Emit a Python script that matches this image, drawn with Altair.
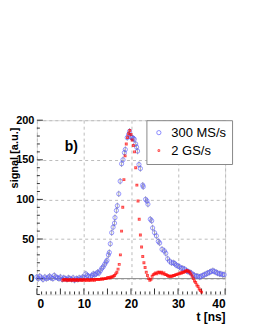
import altair as alt
import pandas as pd

# ---- data ----
blue_t = [0.0, 0.3, 0.6, 1.0, 1.3, 1.7, 2.0, 2.4, 2.7, 3.0, 3.4, 3.7, 4.0, 4.4, 4.7, 5.0, 5.4, 5.7,
          6.0, 6.4, 6.7, 7.0, 7.4, 7.7, 8.0, 8.4, 8.7, 9.0, 9.4, 9.7, 10.0, 10.4, 10.7, 11.0, 11.4,
          11.7, 12.0, 12.3, 12.6, 12.9, 13.2, 13.5, 13.8, 14.1, 14.4, 14.7, 14.9, 15.2, 15.4, 15.6,
          15.9, 16.2, 16.5, 16.6, 16.9, 17.1, 17.4, 17.7, 18.0, 18.3, 18.6, 18.8, 19.2, 19.5, 19.7,
          19.9, 20.2, 20.5, 20.7, 21.0, 21.2, 21.4, 21.7, 22.0, 22.5, 22.6, 23.1, 23.4, 23.6, 24.1,
          24.4, 24.6, 25.0, 25.4, 25.8, 26.1, 26.6, 27.1, 27.4, 27.8, 28.2, 28.6, 29.0, 29.3, 29.6,
          30.0, 30.3, 30.7, 31.0, 31.4, 31.8, 32.1, 32.5, 32.8, 33.2, 33.5, 33.9, 34.2, 34.6, 34.9,
          35.3, 35.6, 36.0, 36.3, 36.7, 37.0, 37.4, 37.7, 38.1, 38.4, 38.8, 39.1, 39.5, 39.8]
blue_v = [2, 0, 3, 1, -1, 2, 0, 1, 3, 1, 0, 4, 2, 1, 0, 2, -1, 1,
          0, -1, 1, 0, -1, 1, -2, 0, -1, 1, 0, 2, 1, 6, 4, 3, 2,
          4, 6, 5, 6, 8, 7, 10, 13, 15, 18, 21, 23, 30, 33, 44,
          58, 65, 70, 77, 86, 92, 107, 123, 145, 150, 159, 163, 178, 182, 186,
          179, 178, 177, 176, 170, 166, 161, 144, 139, 118, 116, 100, 98, 94, 75,
          73, 64, 58, 54, 47, 45, 37, 35, 32, 25, 22, 20, 20, 19, 17,
          16, 15, 13, 13, 12, 10, 9, 8, 7, 5, 4, 3, 3, 2, 3,
          4, 5, 6, 7, 8, 9, 10, 9, 8, 7, 6, 6, 5, 5]

red_t = [5.5, 5.75, 6.0, 6.25, 6.5, 6.75, 7.0, 7.25, 7.5, 7.75, 8.0, 8.25, 8.5, 8.75, 9.0, 9.25,
         9.5, 9.75, 10.0, 10.25, 10.5, 10.75, 11.0, 11.25, 11.5, 11.75, 12.0, 12.25, 12.5, 12.75,
         13.0, 13.25, 13.5, 13.75, 14.0, 14.25, 14.5, 14.75, 15.0, 15.25, 15.5, 15.75, 16.0, 16.25,
         16.5, 16.75, 17.0, 17.25, 17.5, 17.75, 18.0, 18.25, 18.5, 18.75, 19.0, 19.25, 19.5, 19.75,
         20.0, 20.25, 20.5, 20.75, 21.0, 21.25, 21.5, 21.75, 22.0, 22.25, 22.5, 22.75, 23.0, 23.25,
         23.5, 23.75, 24.0, 24.25, 24.5, 24.75, 25.0, 25.25, 25.5, 25.75, 26.0, 26.25, 26.5, 26.75,
         27.0, 27.25, 27.5, 27.75, 28.0, 28.25, 28.5, 28.75, 29.0, 29.25, 29.5, 29.75, 30.0, 30.25,
         30.5, 30.75, 31.0, 31.25, 31.5, 31.75, 32.0, 32.25, 32.5, 32.75, 33.0, 33.25, 33.5, 33.75,
         34.0, 34.25, 34.5, 34.75, 35.0]
red_v = [-2, -1, -2, -1, -2, -2, -1, -2, -2, -1, -2, -2, -1, -2, -2, -1,
         -2, -2, -1, -2, -2, -1, -2, -2, -1, -2, -1, -2, -1, -1,
         -1, -1, -1, 0, -1, 0, 0, 0, 1, 1, 1, 2, 2, 3,
         4, 6, 8, 12, 18, 30, 60, 90, 125, 155, 170, 178, 183, 187,
         182, 175, 168, 160, 140, 118, 98, 75, 55, 40, 28, 20, 14, 8,
         4, 0, -2, -1, 3, 5, 6, 7, 6, 8, 8, 7, 8, 6,
         7, 5, 5, 4, 3, 3, 3, 3, 4, 4, 5, 5, 6, 6,
         7, 7, 8, 8, 9, 10, 10, 9, 8, 6, 3, 0, -3, -5,
         -8, -10, -13, -15, -17]

series_names = ["300 MS/s", "2 GS/s"]
x_major = [0, 5, 10, 15, 20, 25, 30, 35, 40]
y_major = [0, 50, 100, 150, 200]
x_minor = [t for t in range(0, 41) if t % 5 != 0]
y_minor = [v for v in range(-20, 201, 10) if v % 50 != 0]
panel_label = ["b)"]

W, H = 189, 175
FONT = "Liberation Sans"
BLUE, RED = "#5a5aff", "#ff0000"

xs = alt.Scale(domain=[0, 40], nice=False, zero=False)
ys = alt.Scale(domain=[-20, 200], nice=False, zero=False)

blue = pd.DataFrame({"t": blue_t, "v": blue_v, "s": series_names[0]})
red = pd.DataFrame({"t": red_t, "v": red_v, "s": series_names[1]})

legend = alt.Legend(
    title=None, orient="none", legendX=110, legendY=0,
    fillColor="white", strokeColor="#888888", padding=6,
    labelFont=FONT, labelFontSize=13, labelFontWeight="normal",
    labelColor="black", rowPadding=4, labelOffset=6, symbolStrokeWidth=1,
)
color = alt.Color("s:N", scale=alt.Scale(domain=series_names, range=[BLUE, RED]), legend=legend)
shape = alt.Shape("s:N", scale=alt.Scale(domain=series_names, range=["circle", "square"]), legend=legend)
size = alt.Size("s:N", scale=alt.Scale(domain=series_names, range=[18, 3]), legend=legend)

xax = alt.Axis(values=x_major, labelFont=FONT, labelFontSize=12, labelFontWeight="bold",
               labelColor="black", ticks=False, domain=False, grid=True, gridDash=[3, 3],
               gridColor="#bbbbbb", labelPadding=4, title="t [ns]", titleFont=FONT,
               titleFontSize=12, titleFontWeight="bold", titleAnchor="end", titlePadding=2,
               titleColor="black")
yax = alt.Axis(values=y_major, labelFont=FONT, labelFontSize=11, labelFontWeight="bold",
               labelColor="black", ticks=False, domain=False, grid=True, gridDash=[3, 3],
               gridColor="#bbbbbb", labelPadding=3, title="signal [a.u.]", titleFont=FONT,
               titleFontSize=11, titleFontWeight="bold", titleAnchor="end",
               titleX=-22, titleY=7, titleAlign="right", titleBaseline="middle", titleAngle=270,
               titleColor="black")

base_blue = alt.Chart(blue)
err = base_blue.transform_calculate(lo="datum.v - 4", hi="datum.v + 4").mark_rule(
    color="#999999", strokeWidth=0.8).encode(
    x=alt.X("t:Q", scale=xs, axis=xax), y=alt.Y("lo:Q", scale=ys, axis=yax), y2="hi:Q")
pts_blue = base_blue.mark_point(filled=False, strokeWidth=0.9).encode(
    x=alt.X("t:Q", scale=xs), y=alt.Y("v:Q", scale=ys), color=color, shape=shape, size=size)
pts_red = alt.Chart(red).mark_point(filled=False, strokeWidth=1.2).encode(
    x=alt.X("t:Q", scale=xs), y=alt.Y("v:Q", scale=ys), color=color, shape=shape, size=size)

zero_line = alt.Chart(pd.DataFrame({"v": [0]})).mark_rule(color="#888888", strokeWidth=1).encode(
    y=alt.Y("v:Q", scale=ys))

xt = pd.DataFrame({"t": x_major})
xm = pd.DataFrame({"t": x_minor})
yt = pd.DataFrame({"v": y_major})
ym = pd.DataFrame({"v": y_minor})
tick_col = "#333333"
xmaj = alt.Chart(xt).mark_rule(color=tick_col).encode(x=alt.X("t:Q", scale=xs), y=alt.value(H), y2=alt.value(H - 6))
xmin = alt.Chart(xm).mark_rule(color=tick_col).encode(x=alt.X("t:Q", scale=xs), y=alt.value(H), y2=alt.value(H - 3))
ymaj = alt.Chart(yt).mark_rule(color=tick_col).encode(y=alt.Y("v:Q", scale=ys), x=alt.value(0), x2=alt.value(6))
ymin = alt.Chart(ym).mark_rule(color=tick_col).encode(y=alt.Y("v:Q", scale=ys), x=alt.value(0), x2=alt.value(3))

label = alt.Chart(pd.DataFrame({"t": [7.3], "v": [166], "txt": panel_label})).mark_text(
    font=FONT, fontSize=14, fontWeight="bold", color="black").encode(
    x=alt.X("t:Q", scale=xs), y=alt.Y("v:Q", scale=ys), text="txt:N")

chart = alt.layer(err, zero_line, xmaj, xmin, ymaj, ymin, pts_blue, pts_red, label).properties(
    width=W, height=H,
    autosize=alt.AutoSizeParams(type="none"),
    padding={"left": 29, "top": 112, "right": 20, "bottom": 32},
).configure_view(stroke="#333333", strokeWidth=1).configure(background="white")

chart.save("out.html", embed_options={"renderer": "svg", "actions": False})
